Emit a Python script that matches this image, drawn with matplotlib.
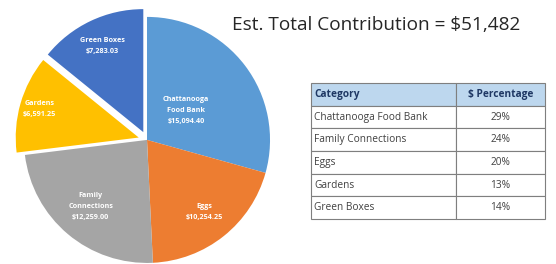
import numpy as np
import matplotlib.pyplot as plt

categories = ["Chattanooga\nFood Bank", "Eggs", "Family\nConnections", "Gardens", "Green Boxes"]
amounts = [15094.40, 10254.25, 12259.00, 6591.25, 7283.03]
amount_labels = ["$15,094.40", "$10,254.25", "$12,259.00", "$6,591.25", "$7,283.03"]
colors = ["#5B9BD5", "#ED7D31", "#A5A5A5", "#FFC000", "#4472C4"]
explode = [0, 0, 0, 0.07, 0.07]
label_dist = [0.40, 0.75, 0.71, 0.84, 0.78]

table_cats = ["Chattanooga Food Bank", "Family Connections", "Eggs", "Gardens", "Green Boxes"]
table_pcts = ["29%", "24%", "20%", "13%", "14%"]

plt.rcParams['font.family'] = ['Open Sans', 'DejaVu Sans']

fig = plt.figure(figsize=(5.56, 2.64), dpi=100)

# pie
ax = fig.add_axes([0.027, -0.03, 0.4748, 1.0])
wedges, _ = ax.pie(amounts, colors=colors, explode=explode, startangle=90,
                   counterclock=False, wedgeprops=dict(linewidth=0))
ax.set_xlim(-1.073, 1.073)
ax.set_ylim(-1.073, 1.073)
ax.set_aspect('equal')
for w, cat, amt, d, ex in zip(wedges, categories, amount_labels, label_dist, explode):
    ang = np.deg2rad((w.theta1 + w.theta2) / 2)
    r = d + ex
    ax.text(r * np.cos(ang), r * np.sin(ang), cat + "\n" + amt, ha='center', va='center',
            color='white', fontsize=5.2, fontweight='bold', linespacing=1.8)

# title
fig.text(0.417, 0.905, "Est. Total Contribution = $51,482", fontsize=13.7, color='#262626',
         ha='left', va='center')

# table
tax = fig.add_axes([0.56, 0.17, 0.42, 0.515])
tax.axis('off')
cells = [[c, p] for c, p in zip(table_cats, table_pcts)]
tbl = tax.table(cellText=cells, colLabels=["Category", "$ Percentage"],
                colWidths=[0.62, 0.38], bbox=[0, 0, 1, 1], cellLoc='left')
tbl.auto_set_font_size(False)
for (r, c), cell in tbl.get_celld().items():
    cell.set_edgecolor('#7f7f7f')
    cell.set_linewidth(0.8)
    cell.PAD = 0.02
    cell.get_text().set_fontsize(7.3)
    cell.get_text().set_color('#404040')
    if c == 1:
        cell.get_text().set_ha('center')
        cell._loc = 'center'
    else:
        cell.get_text().set_ha('left')
        cell._loc = 'left'
    if r == 0:
        cell.set_facecolor('#BDD7EE')
        cell.get_text().set_fontweight('bold')
        cell.get_text().set_color('#1F3864')

fig.savefig("out.png", dpi=100)
